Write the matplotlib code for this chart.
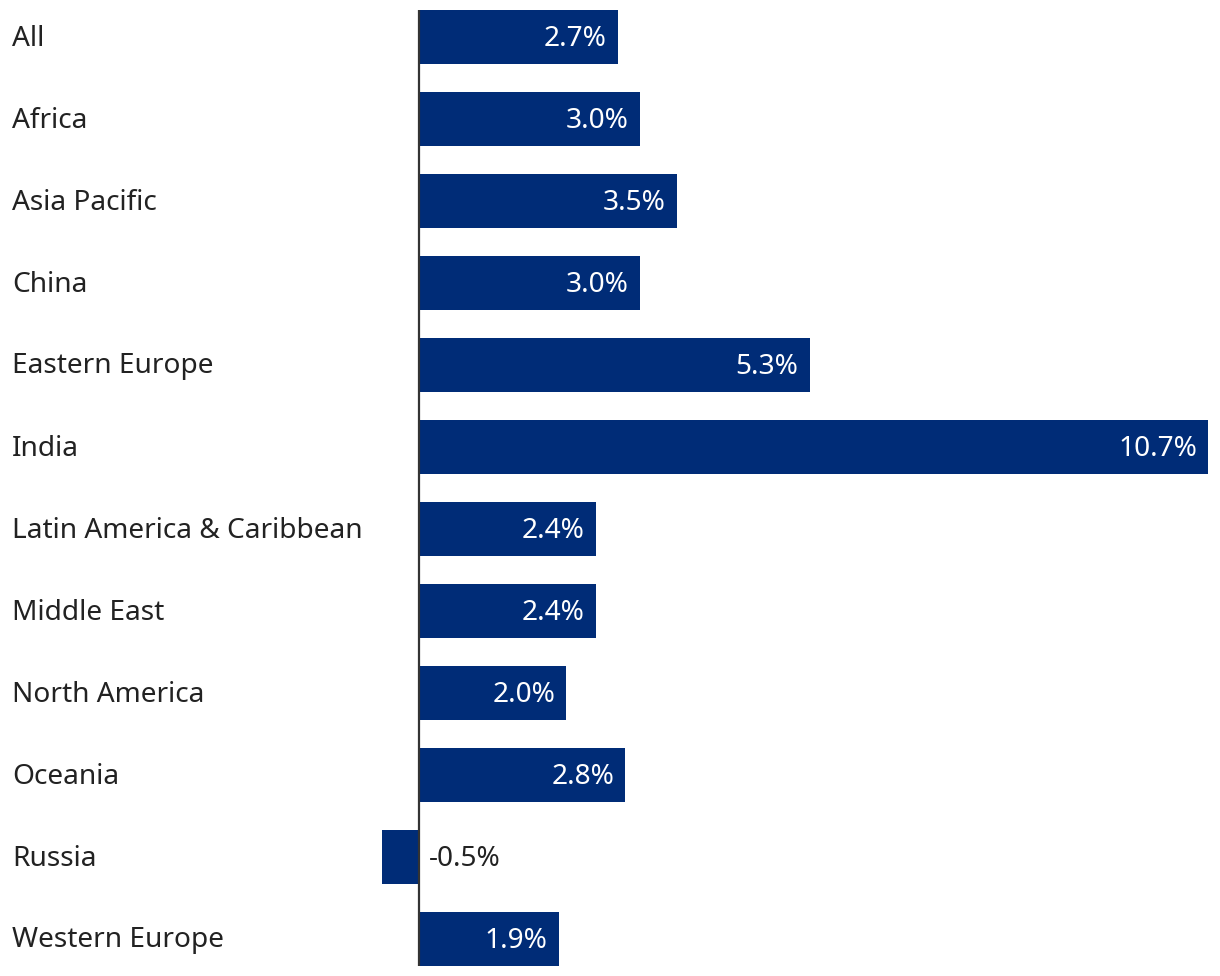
import matplotlib.pyplot as plt

plt.rcParams['font.family'] = ['Noto Sans', 'DejaVu Sans']

regions = ['All', 'Africa', 'Asia Pacific', 'China', 'Eastern Europe', 'India',
           'Latin America & Caribbean', 'Middle East', 'North America', 'Oceania',
           'Russia', 'Western Europe']
growth = [2.7, 3.0, 3.5, 3.0, 5.3, 10.7, 2.4, 2.4, 2.0, 2.8, -0.5, 1.9]

W, H = 1220, 976
bar_color = '#002c77'
fs = 20.2

fig = plt.figure(figsize=(W / 100, H / 100), dpi=100)

# zero at pixel 418.5, 10.7 at pixel 1208
x0_px, x1_px = 418.5, 1208
ppu = (x1_px - x0_px) / 10.7
ax_left_px, ax_right_px = 370, 1215
# row centres at 37 + 82*i
pitch = 82
ax_top_px = 37 - pitch / 2
ax_bot_px = 37 + pitch * 11 + pitch / 2
ax = fig.add_axes([ax_left_px / W, 1 - ax_bot_px / H,
                   (ax_right_px - ax_left_px) / W, (ax_bot_px - ax_top_px) / H])
ax.set_xlim((ax_left_px - x0_px) / ppu, (ax_right_px - x0_px) / ppu)
ax.set_ylim(len(regions) - 0.5, -0.5)
ax.axis('off')

bh = 54 / pitch
ypos = list(range(len(regions)))
ax.barh(ypos, growth, height=bh, color=bar_color, zorder=2)
ax.vlines(0, -bh / 2, len(regions) - 1 + bh / 2, color='#333333', lw=1.6, zorder=3)

pad = 11 / ppu
dy = 1.5 / pitch
for y, v in zip(ypos, growth):
    if v >= 0:
        ax.text(v - pad, y + dy, f'{v:.1f}%', ha='right', va='center',
                color='white', fontsize=fs)
    else:
        ax.text(10 / ppu, y + dy, f'{v:.1f}%', ha='left', va='center',
                color='#222222', fontsize=fs)

for i, name in enumerate(regions):
    fig.text(12 / W, 1 - (38.5 + pitch * i) / H, name, ha='left', va='center',
             color='#222222', fontsize=fs)

fig.savefig('out.png', dpi=100)
